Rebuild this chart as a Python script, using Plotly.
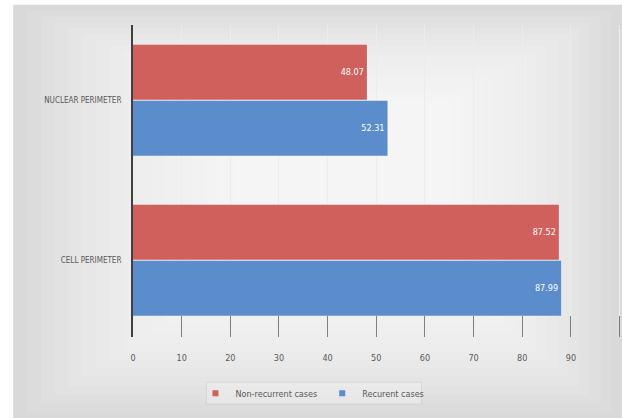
import plotly.graph_objects as go

categories = ["CELL PERIMETER", "NUCLEAR PERIMETER"]
non_recurrent = [87.52, 48.07]
recurrent = [87.99, 52.31]
x_ticks = [0, 10, 20, 30, 40, 50, 60, 70, 80, 90, 100]

RED = "#d0605c"
BLUE = "#5b8ccc"
FONT = "Liberation Sans Narrow, Arial Narrow, DejaVu Sans Condensed, sans-serif"

fig = go.Figure()
fig.add_trace(go.Bar(
    y=categories, x=recurrent, orientation="h", name="Recurent cases",
    marker=dict(color=BLUE, line=dict(width=0)), showlegend=False,
    text=[f"{v:.2f}" for v in recurrent], textposition="inside",
    insidetextanchor="end",
    textfont=dict(color="white", size=9, family=FONT),
))
fig.add_trace(go.Bar(
    y=categories, x=non_recurrent, orientation="h", name="Non-recurrent cases",
    marker=dict(color=RED, line=dict(width=0)), showlegend=False,
    text=[f"{v:.2f}" for v in non_recurrent], textposition="inside",
    insidetextanchor="end",
    textfont=dict(color="white", size=9, family=FONT),
))
# legend entries with small square markers
fig.add_trace(go.Scatter(x=[None], y=[None], mode="markers", name="Non-recurrent cases",
                         marker=dict(symbol="square", size=6, color=RED)))
fig.add_trace(go.Scatter(x=[None], y=[None], mode="markers", name="Recurent cases",
                         marker=dict(symbol="square", size=6, color=BLUE)))

# grey chart-area background with a soft lighter centre (smooth steps)
X0, X1, Y0, Y1 = -0.245, 1.0, -0.27, 1.065
shapes = [dict(type="rect", xref="paper", yref="paper", x0=X0, x1=X1,
               y0=Y0, y1=Y1, fillcolor="#d9d9d9", line=dict(width=0),
               layer="below")]
n = 16
for i in range(1, n + 1):
    f = i / n
    shapes.append(dict(type="rect", xref="paper", yref="paper",
                       x0=X0 + f * 0.45, x1=X1 - f * 0.35,
                       y0=Y0 + f * 0.45, y1=Y1 - f * 0.3,
                       fillcolor="rgba(255,255,255,0.1)", line=dict(width=0),
                       layer="below"))
# legend box
shapes.append(dict(type="rect", xref="paper", yref="paper",
                   x0=0.15, x1=0.59, y0=-0.215, y1=-0.145,
                   fillcolor="rgba(255,255,255,0.25)",
                   line=dict(width=1, color="rgba(200,200,200,0.5)"), layer="below"))

fig.update_layout(
    width=622, height=418,
    margin=dict(l=133, r=0, t=25, b=81),
    paper_bgcolor="white",
    plot_bgcolor="rgba(0,0,0,0)",
    barmode="group",
    bargap=0.3,
    bargroupgap=0.02,
    shapes=shapes,
    font=dict(family=FONT, size=9, color="#595959"),
    showlegend=True,
    legend=dict(orientation="h", x=0.367, xanchor="center", y=-0.18,
                yanchor="middle",
                font=dict(size=9, color="#595959", family=FONT),
                bgcolor="rgba(255,255,255,0)", itemwidth=30,
                tracegroupgap=0),
    xaxis=dict(range=[0, 100.5], tickvals=x_ticks, showgrid=True,
               gridcolor="#ececec", gridwidth=1, zeroline=False,
               ticks="inside", ticklen=21, tickcolor="#7f7f7f", tickwidth=1,
               layer="below traces", ticklabelstandoff=14,
               tickfont=dict(size=9, color="#595959")),
    yaxis=dict(range=[-0.48, 1.47], showline=True, linecolor="#404040",
               linewidth=2, showgrid=False, zeroline=False, ticks="",
               ticklabelstandoff=8,
               tickfont=dict(size=8, color="#595959")),
)

fig.write_html("out.html")
